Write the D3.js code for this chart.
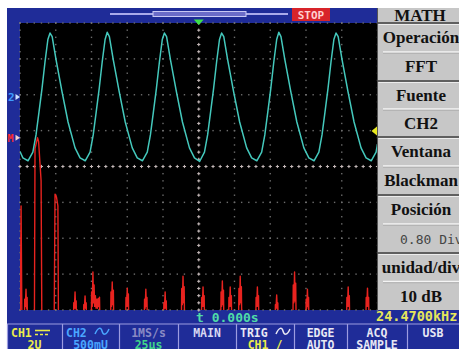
<!DOCTYPE html>
<html><head><meta charset="utf-8">
<script src="https://cdn.jsdelivr.net/npm/d3@7"></script>
<style>
html,body{margin:0;padding:0;background:#fff;overflow:hidden;}
svg{display:block;}
</style></head>
<body><svg id="scope" width="459" height="349"></svg>
<script>
// ---- acquisition settings ----
const timePerDivUs = 25;        // horizontal: 25 µs/div
const ch2VoltsPerDiv = 0.5;     // CH2: 500 mV/div
const ch2GroundDiv = 1.94;      // CH2 ground marker, divisions above centre
const fftDbPerDiv = 10;         // MATH FFT: 10 dB/div
const fftPositionDiv = 0.80;    // MATH reference, divisions above centre
const fftSpanKHz = 500;         // 1 MS/s -> 0..500 kHz across the screen

// ---- CH2 waveform: [time µs from trigger, volts] ----
const ch2Trace = [
  [-125, -0.76], [-123, -0.85], [-119.4, -0.89],
  [-116, -0.77], [-113.8, -0.53], [-111.7, -0.21], [-109.6, 0.12], [-107.5, 0.49], [-105.5, 0.80], [-104, 0.89],
  [-102.5, 0.84], [-99.8, 0.52], [-95.6, 0.07], [-91.4, -0.35], [-86.5, -0.71], [-83, -0.85], [-79.4, -0.89],
  [-76, -0.77], [-73.8, -0.53], [-71.7, -0.21], [-69.6, 0.12], [-67.5, 0.49], [-65.5, 0.80], [-64, 0.90],
  [-62.5, 0.84], [-59.8, 0.52], [-55.6, 0.07], [-51.4, -0.35], [-46.5, -0.71], [-43, -0.85], [-39.4, -0.89],
  [-36, -0.77], [-33.8, -0.53], [-31.7, -0.21], [-29.6, 0.12], [-27.5, 0.49], [-25.5, 0.80], [-24, 0.89],
  [-22.5, 0.84], [-19.8, 0.52], [-15.6, 0.07], [-11.4, -0.35], [-6.5, -0.71], [-3, -0.85], [0.6, -0.90],
  [4, -0.77], [6.2, -0.53], [8.3, -0.21], [10.4, 0.12], [12.5, 0.49], [14.5, 0.80], [16, 0.89],
  [17.5, 0.84], [20.2, 0.52], [24.4, 0.07], [28.6, -0.35], [33.5, -0.71], [37, -0.85], [40.6, -0.89],
  [44, -0.77], [46.2, -0.53], [48.3, -0.21], [50.4, 0.12], [52.5, 0.49], [54.5, 0.80], [56, 0.90],
  [57.5, 0.84], [60.2, 0.52], [64.4, 0.07], [68.6, -0.35], [73.5, -0.71], [77, -0.85], [80.6, -0.89],
  [84, -0.77], [86.2, -0.53], [88.3, -0.21], [90.4, 0.12], [92.5, 0.49], [94.5, 0.80], [96, 0.89],
  [97.5, 0.84], [100.2, 0.52], [104.4, 0.07], [108.6, -0.35], [113.5, -0.71], [117, -0.85], [120.6, -0.89],
  [124, -0.77], [125, -0.66]
];

// ---- MATH FFT (Blackman) of CH2: [frequency kHz, dB] ----
const fftTrace = [
  [0, -60], [1.5, -19], [3, -60],
  [5.6, -60], [6.6, -45], [7.4, -47], [8.4, -42.2], [9.2, -47.5], [10, -44.5], [11.1, -60],
  [20, -60], [21, -3], [24.5, 0], [26, -1], [29.5, -12], [30.8, -60],
  [47.5, -60], [49, -15.7], [51, -16.5], [53, -19], [54, -60],
  [74.2, -60], [75.2, -46], [76, -47.5], [77, -43], [77.8, -47.5], [78.6, -45.5], [79.7, -60],
  [88.2, -60], [89.2, -46.5], [90, -47.5], [91, -44.1], [91.8, -47.5], [92.6, -46], [93.7, -60],
  [99.2, -60], [100.2, -43], [101, -47], [102, -37.4], [102.8, -46], [103.6, -41], [104.4, -47], [105.4, -44],
  [106.4, -47.5], [107.4, -45], [108.4, -47.5], [109.4, -44.8], [110.4, -47], [111.2, -44.4], [112.5, -60],
  [126.2, -60], [127.2, -43], [128, -47], [129, -40.2], [129.8, -46.5], [130.6, -42.5], [131.7, -60],
  [147.2, -60], [148.2, -44.5], [149, -47], [150, -41.9], [150.8, -47], [151.6, -43.5], [152.7, -60],
  [173.2, -60], [174.2, -45], [175, -47.5], [176, -42.2], [176.8, -47], [177.6, -44.5], [178.7, -60],
  [200.2, -60], [201.2, -46], [202, -47.5], [203, -43], [203.8, -47.5], [204.6, -45.5], [205.7, -60],
  [225.2, -60], [226.2, -42], [227, -46.5], [228, -38.6], [228.8, -46], [229.6, -41.5], [230.7, -60],
  [253.2, -60], [254.2, -44.5], [255, -47], [256, -41.6], [256.8, -47], [257.6, -44], [258.7, -60],
  [280.2, -60], [281.2, -43], [282, -47], [283, -39.9], [283.8, -46.5], [284.6, -42.5], [285.7, -60],
  [291.2, -60], [292.2, -44.5], [293, -47], [294, -41.6], [294.8, -47], [295.6, -44], [296.7, -60],
  [305.2, -60], [306.2, -42], [307, -46.5], [308, -38.6], [308.8, -46], [309.6, -41.5], [310.7, -60],
  [329.2, -60], [330.2, -44.5], [331, -47], [332, -41.6], [332.8, -47], [333.6, -44], [334.7, -60],
  [356.2, -60], [357.2, -46.5], [358, -47.5], [359, -43.8], [359.8, -47.5], [360.6, -46], [361.7, -60],
  [381.2, -60], [382.2, -41], [383, -46], [384, -37.4], [384.8, -45.5], [385.6, -40.5], [386.7, -60],
  [399.2, -60], [400.2, -45], [401, -47.5], [402, -42.2], [402.8, -47], [403.6, -44.5], [404.7, -60],
  [456.2, -60], [457.2, -44.5], [458, -47], [459, -41.6], [459.8, -47], [460.6, -44], [461.7, -60],
  [483.2, -60], [484.2, -44.5], [485, -47], [486, -41.9], [486.8, -47], [487.6, -44.5], [488.7, -60],
  [500, -60]
];

// ---- side menu (MATH) ----
const menuTitle = "MATH";
const menuLabels = ["Operación", "Fuente", "Ventana", "Posición", "unidad/div"];
const menuValues = ["FFT", "CH2", "Blackman", "0.80 Div", "10 dB"];

// ---- bottom status bar ----
const statusTop = ["CH1", "CH2", "1MS/s", "MAIN", "TRIG", "EDGE", "ACQ", "USB"];
const statusBottom = ["2U", "500mU", "25μs", "", "CH1 /", "AUTO", "SAMPLE", ""];
const triggerTimeText = "0.000s";
const frequencyText = "24.4700kHz";
const runState = "STOP";

// ---- layout ----
const W = 459, H = 349;
const screenL = 7, screenT = 8;
const plotL = 20, plotR = 377.5, plotT = 23, plotB = 310;
const divX = (plotR - plotL) / 10, divY = (plotB - plotT) / 8;
const panelL = 377.5;
const statusT = 324;
const statusEdges = [7, 62, 119, 178, 236, 294, 347, 407, 459];

const BLUE = "#1f2c98";
const svg = d3.select("#scope");

svg.append("rect").attr("x", 0).attr("y", 0).attr("width", W).attr("height", H).attr("fill", "#fff");
svg.append("rect").attr("x", screenL).attr("y", screenT).attr("width", W - screenL).attr("height", H - screenT).attr("fill", BLUE);
svg.append("rect").attr("x", plotL).attr("y", plotT).attr("width", plotR - plotL).attr("height", plotB - plotT).attr("fill", "#000");

// scales
const xT = d3.scaleLinear().domain([-5 * timePerDivUs, 5 * timePerDivUs]).range([plotL, plotR]);
const yV = d3.scaleLinear()
  .domain([(-4 - ch2GroundDiv) * ch2VoltsPerDiv, (4 - ch2GroundDiv) * ch2VoltsPerDiv])
  .range([plotB, plotT]);
const xF = d3.scaleLinear().domain([0, fftSpanKHz]).range([plotL, plotR]);
const yDb = d3.scaleLinear()
  .domain([(-4 - fftPositionDiv) * fftDbPerDiv, (4 - fftPositionDiv) * fftDbPerDiv])
  .range([plotB, plotT]);

// graticule: dotted division lines, cross ticks on the centre axes
const grid = svg.append("g");
const cx = plotL + 5 * divX, cy = plotT + 4 * divY;
for (let i = 0; i <= 10; i++) {
  const gx = plotL + i * divX;
  for (let j = 0; j <= 40; j++) {
    const gy = plotT + j * divY / 5;
    grid.append("rect").attr("x", gx - 0.7).attr("y", gy - 0.7).attr("width", 1.4).attr("height", 1.4)
      .attr("fill", (j % 5 === 0) ? "#9a9a9a" : "#6c6c6c");
  }
}
for (let k = 0; k <= 8; k++) {
  const gy = plotT + k * divY;
  for (let j = 0; j <= 50; j++) {
    const gx = plotL + j * divX / 5;
    grid.append("rect").attr("x", gx - 0.7).attr("y", gy - 0.7).attr("width", 1.4).attr("height", 1.4)
      .attr("fill", "#6c6c6c");
  }
}
for (let j = 0; j <= 50; j++) {
  const gx = plotL + j * divX / 5;
  grid.append("path").attr("d", `M${gx - 1.6},${cy}H${gx + 1.6}M${gx},${cy - 1.6}V${cy + 1.6}`)
    .attr("stroke", "#c4b8b8").attr("stroke-width", 1);
}
for (let j = 0; j <= 40; j++) {
  const gy = plotT + j * divY / 5;
  grid.append("path").attr("d", `M${cx - 1.6},${gy}H${cx + 1.6}M${cx},${gy - 1.6}V${gy + 1.6}`)
    .attr("stroke", "#c4b8b8").attr("stroke-width", 1);
}

// clip traces to the graticule
svg.append("clipPath").attr("id", "plotClip").append("rect")
  .attr("x", plotL).attr("y", plotT).attr("width", plotR - plotL).attr("height", plotB - plotT);
const traces = svg.append("g").attr("clip-path", "url(#plotClip)");

traces.append("path")
  .attr("d", d3.line().x(d => xF(d[0])).y(d => yDb(d[1]))(fftTrace))
  .attr("fill", "none").attr("stroke", "#e8231f").attr("stroke-width", 1.4).attr("stroke-linejoin", "round");

traces.append("path")
  .attr("d", d3.line().x(d => xT(d[0])).y(d => yV(d[1]))(ch2Trace))
  .attr("fill", "none").attr("stroke", "#44c8bc").attr("stroke-width", 1.5).attr("stroke-linejoin", "round");

// channel / math reference markers on the left
const g2 = yV(0), gM = yDb(0);
svg.append("text").attr("x", 8).attr("y", g2 + 4).text("2")
  .attr("font-family", "DejaVu Sans Mono").attr("font-weight", "bold").attr("font-size", 11).attr("fill", "#3d9cff");
svg.append("path").attr("d", `M15.5,${g2 - 3}L20,${g2}L15.5,${g2 + 3}Z`).attr("fill", "#cfe0ff");
svg.append("text").attr("x", 7.5).attr("y", gM + 4).text("M")
  .attr("font-family", "DejaVu Sans Mono").attr("font-weight", "bold").attr("font-size", 10).attr("fill", "#ff2a2a");
svg.append("path").attr("d", `M15.5,${gM - 3}L20,${gM}L15.5,${gM + 3}Z`).attr("fill", "#f0d0d0");

// trigger level (right edge) and trigger position (top)
svg.append("path").attr("d", `M${plotR - 6},131L${plotR},126L${plotR},136Z`).attr("fill", "#e8e820");
svg.append("path").attr("d", `M${cx - 5},19.5L${cx + 5},19.5L${cx},25Z`).attr("fill", "#3fe24a");

// top memory bar and run state
svg.append("line").attr("x1", 110).attr("x2", 288).attr("y1", 14).attr("y2", 14)
  .attr("stroke", "#a9aaea").attr("stroke-width", 2);
svg.append("rect").attr("x", 153).attr("y", 11.5).attr("width", 93).attr("height", 5)
  .attr("fill", "#6b6cc8").attr("stroke", "#c8c8f4").attr("stroke-width", 1);
svg.append("rect").attr("x", 292).attr("y", screenT).attr("width", 38).attr("height", 13).attr("fill", "#d8242a");
svg.append("text").attr("x", 311).attr("y", 19).attr("text-anchor", "middle").text(runState)
  .attr("font-family", "DejaVu Sans Mono").attr("font-weight", "bold").attr("font-size", 11).attr("fill", "#ffd0d0");

// side menu panel
const panel = svg.append("g");
panel.append("rect").attr("x", panelL).attr("y", screenT).attr("width", W - panelL).attr("height", plotB - screenT).attr("fill", "#c7c7c7");
panel.append("line").attr("x1", panelL).attr("x2", panelL).attr("y1", screenT).attr("y2", plotB).attr("stroke", "#555").attr("stroke-width", 1);
const sectionTops = [23, 81, 137, 195, 253];
const sectionH = [58, 56, 58, 58, 57];
const serif = "Liberation Serif";
panel.append("text").attr("x", 420).attr("y", 21).attr("text-anchor", "middle").text(menuTitle)
  .attr("font-family", serif).attr("font-weight", "bold").attr("font-size", 17).attr("fill", "#111");
sectionTops.forEach((top, i) => {
  const mid = top + sectionH[i] / 2;
  panel.append("line").attr("x1", panelL).attr("x2", W).attr("y1", top).attr("y2", top).attr("stroke", "#3c3c3c").attr("stroke-width", 1.6);
  panel.append("line").attr("x1", panelL + 1).attr("x2", W).attr("y1", top + 1.5).attr("y2", top + 1.5).attr("stroke", "#ececec").attr("stroke-width", 1);
  panel.append("line").attr("x1", 383).attr("x2", W).attr("y1", mid).attr("y2", mid).attr("stroke", "#f4f4f4").attr("stroke-width", 1.4);
  panel.append("line").attr("x1", 383).attr("x2", W).attr("y1", mid + 1.2).attr("y2", mid + 1.2).attr("stroke", "#9a9a9a").attr("stroke-width", 0.6);
  panel.append("text").attr("x", 421).attr("y", top + 20).attr("text-anchor", "middle").text(menuLabels[i])
    .attr("font-family", serif).attr("font-weight", "bold").attr("font-size", 17).attr("fill", "#111");
  const isMono = menuValues[i].startsWith("0.");
  panel.append("text").attr("x", isMono ? 400 : 421).attr("y", mid + 20)
    .attr("text-anchor", isMono ? "start" : "middle").text(menuValues[i])
    .attr("font-family", isMono ? "DejaVu Sans Mono" : serif).attr("font-weight", isMono ? "normal" : "bold")
    .attr("font-size", isMono ? 13 : 17).attr("fill", isMono ? "#444" : "#111");
});

// readout row under the graticule
svg.append("text").attr("x", 196).attr("y", 322).text("t " + triggerTimeText)
  .attr("font-family", "DejaVu Sans Mono").attr("font-weight", "bold").attr("font-size", 13).attr("fill", "#4fdca8");
svg.append("text").attr("x", 376).attr("y", 321).text(frequencyText)
  .attr("font-family", "DejaVu Sans Mono").attr("font-weight", "bold").attr("font-size", 13.5).attr("fill", "#e6e65a");

// status bar
const status = svg.append("g");
status.append("line").attr("x1", screenL).attr("x2", W).attr("y1", statusT).attr("y2", statusT).attr("stroke", "#9c9ce0").attr("stroke-width", 1.2);
statusEdges.slice(0, -1).forEach(x => {
  status.append("line").attr("x1", x + 0.5).attr("x2", x + 0.5).attr("y1", statusT).attr("y2", H).attr("stroke", "#9c9ce0").attr("stroke-width", 1.2);
});
const topColors = ["#ecec4a", "#4aa6ff", "#8a8ac4", "#d8d8f2", "#e8e8f4", "#e8e8f4", "#e8e8f4", "#e8e8f4"];
const botColors = ["#ecec4a", "#4aa6ff", "#3fd68a", "#e8e8f4", "#ecec4a", "#e8e8f4", "#e8e8f4", "#e8e8f4"];
statusTop.forEach((t, i) => {
  const l = statusEdges[i], r = statusEdges[i + 1], mid = (l + r) / 2;
  const hasSym = i <= 1 || i === 4;
  status.append("text").attr("x", hasSym ? l + 4 : mid).attr("y", 336.5)
    .attr("text-anchor", hasSym ? "start" : "middle").text(t)
    .attr("font-family", "DejaVu Sans Mono").attr("font-weight", "bold").attr("font-size", 11.5).attr("fill", topColors[i]);
  status.append("text").attr("x", mid).attr("y", 349).attr("text-anchor", "middle").text(statusBottom[i])
    .attr("font-family", "DejaVu Sans Mono").attr("font-weight", "bold").attr("font-size", 11.5).attr("fill", botColors[i]);
});
// coupling symbols: DC for CH1, AC for CH2 and trigger
status.append("path").attr("d", "M35,330.5H50").attr("stroke", "#ecec4a").attr("stroke-width", 1.6);
status.append("path").attr("d", "M35,334.5H50").attr("stroke", "#ecec4a").attr("stroke-width", 1.6).attr("stroke-dasharray", "3,2");
const acWave = (x0, col) => status.append("path")
  .attr("d", `M${x0},334 C${x0 + 3},327 ${x0 + 6},327 ${x0 + 7},331 S${x0 + 11},336 ${x0 + 14},329`)
  .attr("fill", "none").attr("stroke", col).attr("stroke-width", 1.5);
acWave(95, "#4aa6ff");
acWave(276, "#e8e8f4");
</script>
</body></html>
